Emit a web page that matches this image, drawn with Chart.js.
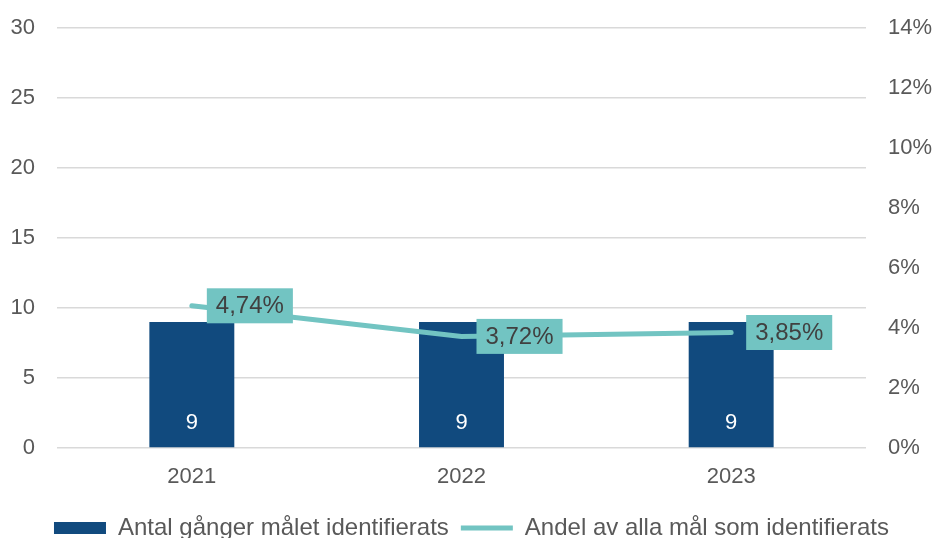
<!DOCTYPE html>
<html>
<head>
<meta charset="utf-8">
<script src="https://cdn.jsdelivr.net/npm/chart.js@4"></script>
<style>
    html, body { margin: 0; padding: 0; background: #ffffff; overflow: hidden; height: 538px; }
    #wrap { width: 937px; height: 552px; }
</style>
</head>
<body>
<div id="wrap"><canvas id="myChart"></canvas></div>
<script>
const years = ['2021', '2022', '2023'];
const antalValues = [9, 9, 9];
const andelValues = [4.74, 3.72, 3.85];
const andelLabels = ['4,74%', '3,72%', '3,85%'];

const barColor = '#114A7E';
const lineColor = '#72C4C2';
const textColor = '#595959';
const fontFamily = '"Liberation Sans", Arial, sans-serif';

const valueLabels = {
    id: 'valueLabels',
    afterDatasetsDraw(chart) {
        const ctx = chart.ctx;
        ctx.save();
        ctx.textBaseline = 'middle';
        ctx.textAlign = 'center';

        // bar values, white near the bottom of each bar
        ctx.font = '22px ' + fontFamily;
        ctx.fillStyle = '#ffffff';
        chart.getDatasetMeta(0).data.forEach((bar, i) => {
            ctx.fillText(String(antalValues[i]), bar.x, bar.base - 24);
        });

        // percentage labels in teal boxes to the right of each point
        ctx.font = '24px ' + fontFamily;
        chart.getDatasetMeta(1).data.forEach((pt, i) => {
            const text = andelLabels[i];
            const w = ctx.measureText(text).width + 18;
            const h = 35;
            const left = pt.x + 15;
            ctx.fillStyle = lineColor;
            ctx.fillRect(left, pt.y - h / 2, w, h);
            ctx.fillStyle = '#404040';
            ctx.fillText(text, left + w / 2, pt.y + 1);
        });
        ctx.restore();
    }
};

// fixed axis width, and no extra vertical room for the end labels
function fixWidth(w) {
    return (axis) => {
        axis.width = w;
        axis.paddingTop = 0;
        axis.paddingBottom = 0;
    };
}

function createChart() {
    const ctx = document.getElementById('myChart').getContext('2d');
    new Chart(ctx, {
        type: 'bar',
        data: {
            labels: years,
            datasets: [
                {
                    type: 'bar',
                    label: 'Antal gånger målet identifierats',
                    data: antalValues,
                    backgroundColor: barColor,
                    borderWidth: 0,
                    barPercentage: 0.315,
                    categoryPercentage: 1,
                    pointStyle: 'rect',
                    yAxisID: 'y',
                    order: 1
                },
                {
                    type: 'line',
                    label: 'Andel av alla mål som identifierats',
                    data: andelValues,
                    borderColor: lineColor,
                    backgroundColor: lineColor,
                    borderWidth: 5,
                    borderCapStyle: 'round',
                    pointRadius: 0,
                    pointStyle: 'line',
                    tension: 0,
                    yAxisID: 'y1',
                    order: 0
                }
            ]
        },
        options: {
            responsive: true,
            maintainAspectRatio: false,
            animation: false,
            layout: {
                padding: { top: 28, left: 10, right: 4, bottom: 2 }
            },
            scales: {
                x: {
                    grid: { display: false, drawTicks: false },
                    border: { display: false },
                    ticks: {
                        color: textColor,
                        font: { size: 22, family: fontFamily },
                        padding: 16
                    },
                    afterFit: (axis) => { axis.height = 56; }
                },
                y: {
                    position: 'left',
                    min: 0,
                    max: 30,
                    ticks: {
                        stepSize: 5,
                        color: textColor,
                        font: { size: 22, family: fontFamily },
                        padding: 22
                    },
                    grid: {
                        color: '#D9D9D9',
                        lineWidth: 1.5,
                        drawTicks: false
                    },
                    border: { display: false },
                    afterFit: fixWidth(47)
                },
                y1: {
                    position: 'right',
                    min: 0,
                    max: 14,
                    ticks: {
                        stepSize: 2,
                        color: textColor,
                        font: { size: 22, family: fontFamily },
                        padding: 22,
                        callback: (v) => v + '%'
                    },
                    grid: { display: false, drawTicks: false },
                    border: { display: false },
                    afterFit: fixWidth(67)
                }
            },
            plugins: {
                legend: {
                    position: 'bottom',
                    labels: {
                        color: textColor,
                        font: { size: 24, family: fontFamily },
                        usePointStyle: true,
                        pointStyleWidth: 52,
                        boxHeight: 12,
                        padding: 12,
                        sort: (a, b) => a.datasetIndex - b.datasetIndex
                    }
                },
                tooltip: { enabled: false }
            }
        },
        plugins: [valueLabels]
    });
}

document.addEventListener('DOMContentLoaded', createChart);
</script>
</body>
</html>
